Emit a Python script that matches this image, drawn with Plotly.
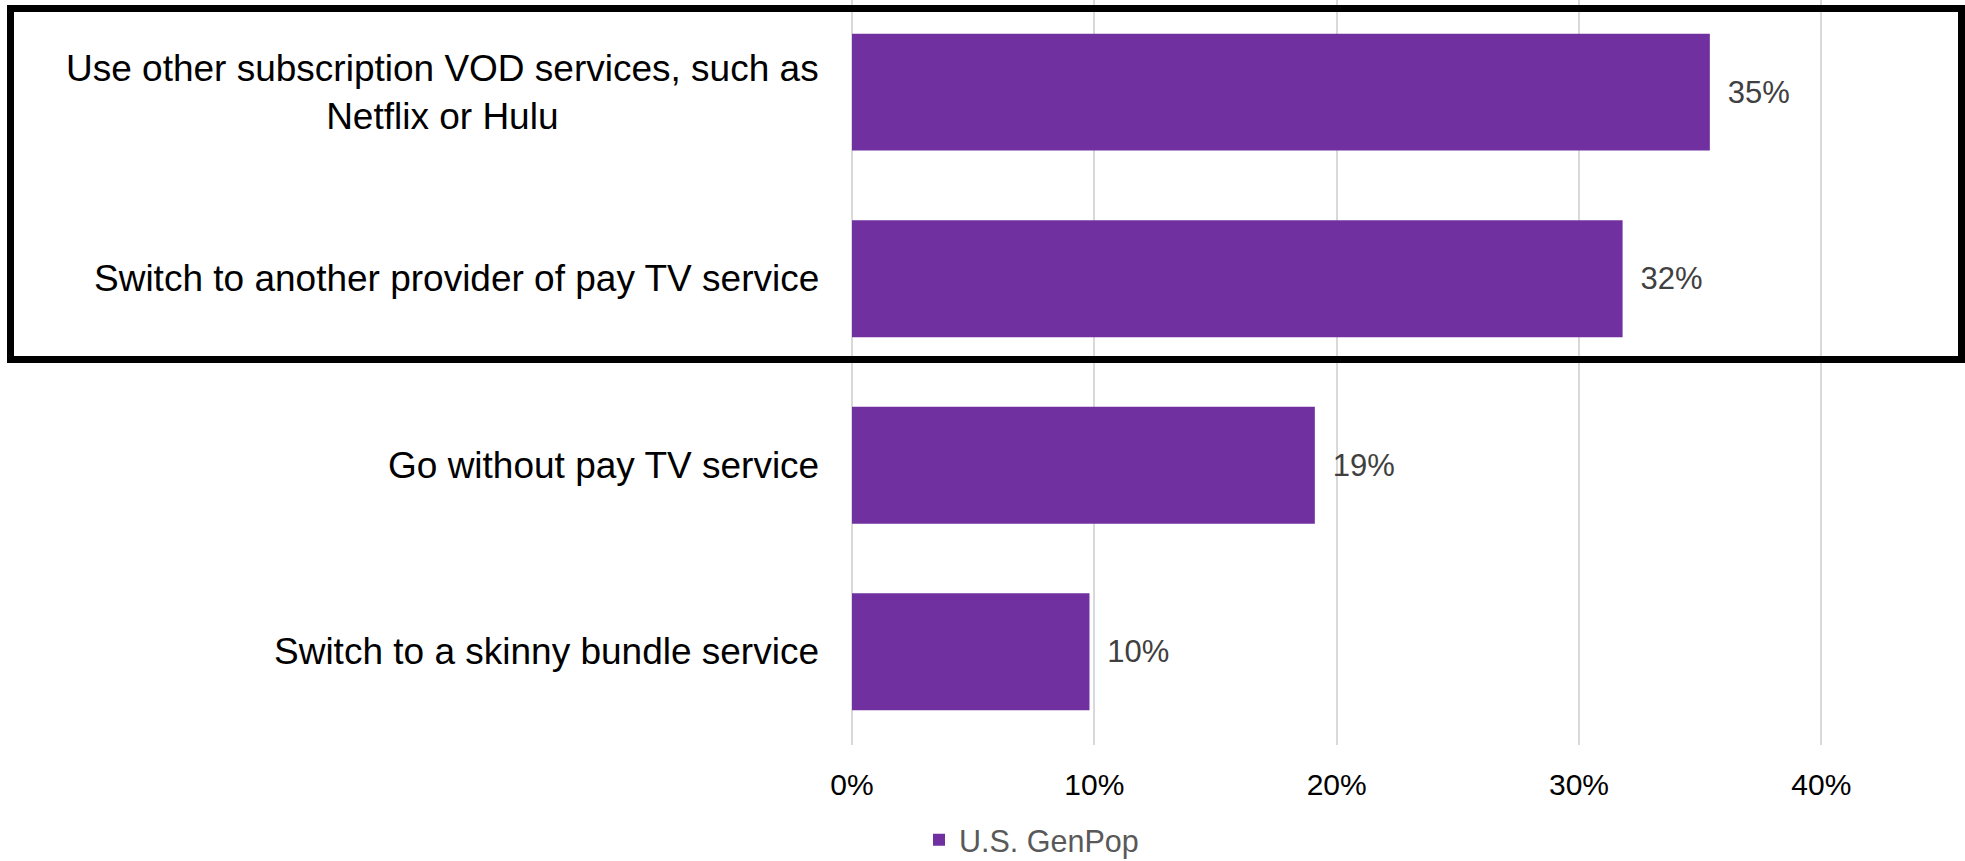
import plotly.graph_objects as go

categories = [
    "Use other subscription VOD services, such as<br>Netflix or Hulu",
    "Switch to another provider of pay TV service",
    "Go without pay TV service",
    "Switch to a skinny bundle service",
]
values = [0.354, 0.318, 0.191, 0.098]
series_name = "U.S. GenPop"
tick_vals = [0, 0.1, 0.2, 0.3, 0.4]
tick_text = ["0%", "10%", "20%", "30%", "40%"]

W, H = 1965, 861
ML, MR, MT, MB = 852, 0, 0, 116
plot_w = W - ML - MR
plot_h = H - MT - MB

FONT = "Liberation Sans, Arial"

fig = go.Figure()
fig.add_trace(go.Bar(
    x=values,
    y=categories,
    orientation="h",
    name=series_name,
    marker=dict(color="#7030A0", line=dict(width=0)),
    text=["\u00a0\u2009" + f"{v*100:.0f}%" for v in values],
    textposition="outside",
    textfont=dict(family=FONT, size=31, color="#404040"),
    cliponaxis=False,
    showlegend=True,
))

# category labels (right-aligned block, centered lines)
for c in categories:
    fig.add_annotation(
        x=0, xref="paper", y=c, yref="y",
        text=c, showarrow=False, xanchor="right", yanchor="middle",
        align="center", xshift=-31,
        font=dict(family=FONT, size=37, color="#000000"),
    )

# highlight box around top two categories
fig.add_shape(
    type="rect", xref="paper", yref="paper",
    x0=(10.5 - ML) / plot_w, x1=(1961.5 - ML) / plot_w,
    y0=1 - 359.5 / plot_h, y1=1 - 8.5 / plot_h,
    line=dict(color="#000000", width=7),
    fillcolor="rgba(0,0,0,0)",
    layer="above",
)

fig.update_layout(
    width=W, height=H,
    margin=dict(l=ML, r=MR, t=MT, b=MB, pad=0),
    paper_bgcolor="white", plot_bgcolor="white",
    bargap=0.373,
    font=dict(family=FONT, color="#000000"),
    xaxis=dict(
        range=[0, 0.4593],
        tickvals=tick_vals, ticktext=tick_text,
        showgrid=True, gridcolor="#d9d9d9", gridwidth=1.5,
        zeroline=True, zerolinecolor="#d9d9d9", zerolinewidth=1.5,
        showline=False, ticks="",
        tickfont=dict(family=FONT, size=30, color="#000000"),
        ticklabelstandoff=19,
    ),
    yaxis=dict(
        range=[3.5, -0.494],
        showticklabels=False, showgrid=False, zeroline=False, showline=False, ticks="",
    ),
    legend=dict(
        orientation="h",
        x=919 / W, xref="container", xanchor="left",
        y=1 - 840 / H, yref="container", yanchor="middle",
        font=dict(family=FONT, size=30.5, color="#595959"),
        bgcolor="rgba(0,0,0,0)",
    ),
)

fig.write_html(
    "out.html",
    config={"displayModeBar": False},
    post_script="document.body.style.margin='0';document.body.style.overflow='hidden';",
)
